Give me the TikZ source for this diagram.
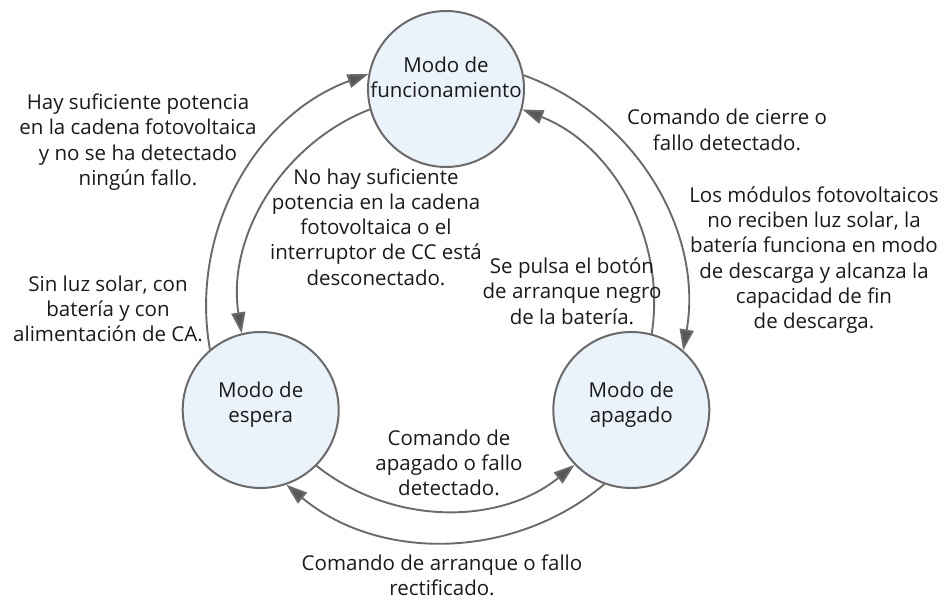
\documentclass[tikz,border=0pt]{standalone}
\usepackage{fontspec}
\setmainfont{Open Sans}
\usetikzlibrary{arrows.meta}
\definecolor{cfill}{HTML}{EAF2FA}
\definecolor{cline}{HTML}{6A6A6A}
\definecolor{ctip}{HTML}{575757}
\definecolor{ctext}{HTML}{1A1A1A}
\begin{document}
\begin{tikzpicture}[x=1pt,y=1pt,
  modo/.style={circle, draw=cline, line width=2pt, fill=cfill, minimum size=156pt, inner sep=0pt},
  lbl/.style={align=center, text=ctext, font=\fontsize{20.5}{25.3}\selectfont, inner sep=0pt},
  arr/.style={draw=cline, line width=1.9pt, -{Triangle[length=21pt,width=14pt,fill=ctip]}},
  outer/.style={looseness=0.963},
  inner/.style={looseness=0.956},
]
\useasboundingbox (0,0) rectangle (945,599);
% states
\node[modo] (run) at (446,510) {};
\node[modo] (stb) at (260.7,189) {};
\node[modo] (off) at (631.3,189) {};
\node[lbl] (runt) at (446,521.5) {Modo de\\funcionamiento};
\node[lbl] (stbt) at (260.7,194) {Modo de\\espera};
\node[lbl] (offt) at (631.3,194) {Modo de\\apagado};
% transitions
\draw[arr] (stb.130.7) to[bend left=40, outer] (run.169.3);
\draw[arr] (run.195.7) to[bend right=38.7, inner] (stb.104.3);
\draw[arr] (run.10.7) to[bend left=40, outer] (off.49.3);
\draw[arr] (off.75.7) to[bend right=38.7, inner] (run.-15.7);
\draw[arr] (stb.315.7) to[bend right=38.7, inner] (off.224.3);
\draw[arr] (off.250.7) to[bend left=40, outer] (stb.289.3);
% labels
\node[lbl] (l1) at (138,457) {Hay suficiente potencia\\en la cadena fotovoltaica\\y no se ha detectado\\ningún fallo.};
\node[lbl] (l2) at (108,290) {Sin luz solar, con\\batería y con\\alimentación de CA.};
\node[lbl] (l3) at (376,372) {No hay suficiente\\potencia en la cadena\\fotovoltaica o el\\interruptor de CC está\\desconectado.};
\node[lbl] (l4) at (727,469) {Comando de cierre o\\fallo detectado.};
\node[lbl] (l5) at (814,339) {Los módulos fotovoltaicos\\no reciben luz solar, la\\batería funciona en modo\\de descarga y alcanza la\\capacidad de fin\\de descarga.};
\node[lbl] (l6) at (572,308) {Se pulsa el botón\\de arranque negro\\de la batería.};
\node[lbl] (l7) at (449,136) {Comando de\\apagado o fallo\\detectado.};
\node[lbl] (l8) at (442,24) {Comando de arranque o fallo\\rectificado.};
\end{tikzpicture}
\end{document}
